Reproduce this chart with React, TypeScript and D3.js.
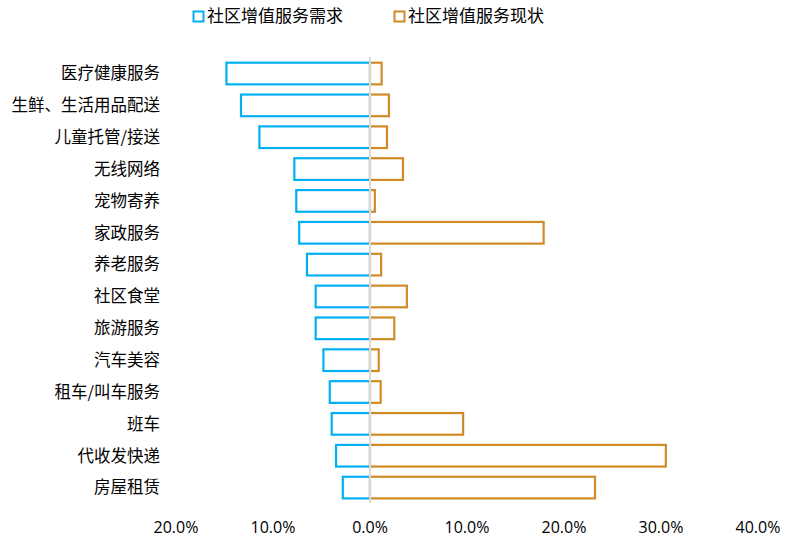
import React from "react";
import * as d3 from "d3";

const categories = [
  "医疗健康服务",
  "生鲜、生活用品配送",
  "儿童托管/接送",
  "无线网络",
  "宠物寄养",
  "家政服务",
  "养老服务",
  "社区食堂",
  "旅游服务",
  "汽车美容",
  "租车/叫车服务",
  "班车",
  "代收发快递",
  "房屋租赁",
];
const demand = [14.8, 13.3, 11.4, 7.8, 7.6, 7.3, 6.5, 5.6, 5.6, 4.8, 4.15, 3.95, 3.5, 2.8];
const current = [1.2, 1.95, 1.75, 3.4, 0.5, 17.9, 1.15, 3.8, 2.5, 0.9, 1.1, 9.6, 30.5, 23.2];
const ticks = [-20, -10, 0, 10, 20, 30, 40];
const seriesNames = ["社区增值服务需求", "社区增值服务现状"];

const W = 797;
const H = 545;
const BLUE = "#00B0F0";
const ORANGE = "#D08B27";
const FONT = "'Noto Sans CJK SC', 'Noto Sans', sans-serif";

export default function App() {
  const x = d3.scaleLinear().domain([-20, 40]).range([176, 758]);
  const y = d3
    .scaleBand<string>()
    .domain(categories)
    .range([57.6, 503.5])
    .paddingInner(0.32)
    .paddingOuter(0.16);
  const bh = y.bandwidth();

  return (
    <svg
      width={W}
      height={H}
      style={{ position: "absolute", left: 0, top: 0, background: "#fff" }}
      fontFamily={FONT}
    >
      {/* legend */}
      <rect x={193.5} y={11.5} width={10} height={10} fill="none" stroke={BLUE} strokeWidth={2} />
      <text x={207} y={22} fontSize={17} fill="#000">{seriesNames[0]}</text>
      <rect x={394.5} y={11.5} width={10} height={10} fill="none" stroke={ORANGE} strokeWidth={2} />
      <text x={408} y={22} fontSize={17} fill="#000">{seriesNames[1]}</text>

      {/* bars */}
      {categories.map((c, i) => {
        const yy = y(c)!;
        return (
          <g key={c}>
            <rect
              x={x(-demand[i])}
              y={yy}
              width={x(0) - x(-demand[i])}
              height={bh}
              fill="#fff"
              stroke={BLUE}
              strokeWidth={2.2}
            />
            <rect
              x={x(0)}
              y={yy}
              width={x(current[i]) - x(0)}
              height={bh}
              fill="#fff"
              stroke={ORANGE}
              strokeWidth={2.2}
            />
            <text
              x={160}
              y={yy + bh / 2}
              dy="0.35em"
              textAnchor="end"
              fontSize={16.5}
              fill="#000"
            >
              {c}
            </text>
          </g>
        );
      })}

      {/* zero line */}
      <line x1={x(0)} x2={x(0)} y1={57} y2={503} stroke="#D9D9D9" strokeWidth={2} />

      {/* x tick labels */}
      {ticks.map((t) => (
        <text
          key={t}
          x={x(t)}
          y={533}
          textAnchor="middle"
          fontSize={16}
          fontFamily="'Open Sans', 'Noto Sans', sans-serif"
          fill="#000"
        >
          {Math.abs(t).toFixed(1) + "%"}
        </text>
      ))}
    </svg>
  );
}
